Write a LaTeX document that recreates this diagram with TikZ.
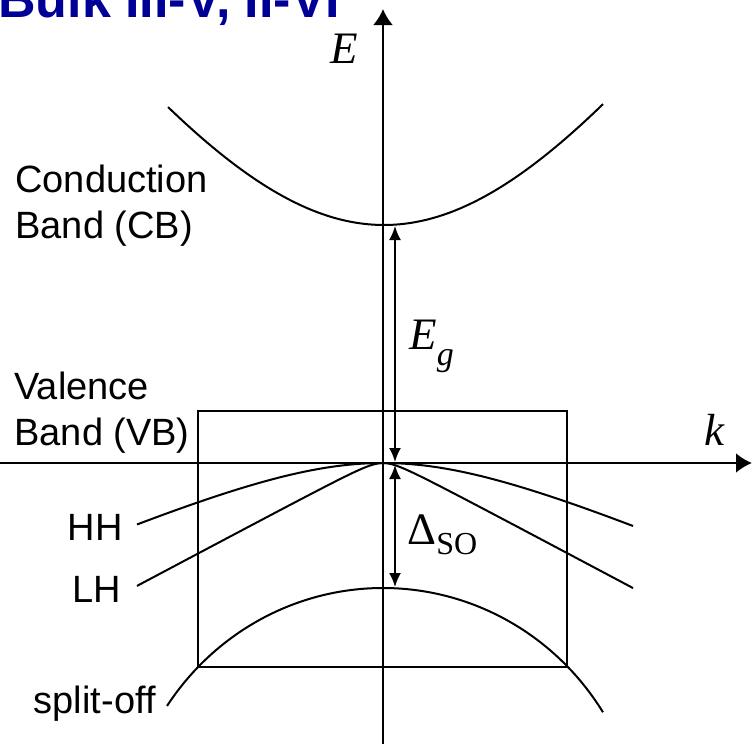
\documentclass[tikz,border=0pt]{standalone}
\usepackage{fontspec}
\setmainfont{Liberation Sans}
\newfontfamily\bandserif{Liberation Serif}
\usetikzlibrary{arrows.meta,calc,positioning}
\definecolor{TitleBlue}{RGB}{0,0,150}

\begin{document}
\begin{tikzpicture}[x=0.5pt,y=-0.5pt,>=Latex,
    band/.style={line width=1pt},
    bandlab/.style={inner sep=0pt,font=\fontsize{19}{23}\selectfont},
    axislab/.style={inner sep=0pt,font=\bandserif\itshape\fontsize{22.5}{24}\selectfont}]
  \useasboundingbox (0,0) rectangle (752,744);
  \clip (0,0) rectangle (752,744);
  \node[anchor=base west,inner sep=0pt,text=TitleBlue,
        font=\bfseries\fontsize{26}{28}\selectfont] (title) at (-2,18) {Bulk III-V, II-VI};
  % axes
  \coordinate (O) at (383,463);
  \coordinate (Ebot) at (383,744);
  \coordinate (Etop) at (383,9);
  \coordinate (kleft) at (0,463);
  \coordinate (kright) at (752,463);
  \draw[-{Latex[length=8pt,width=10pt]},line width=1.2pt] (Ebot) -- (Etop);
  \draw[-{Latex[length=8pt,width=10pt]},line width=1.2pt] (kleft) -- (kright);
  \node[axislab,anchor=base] (Elab) at (344,63) {E};
  \node[axislab,anchor=base] (klab) at (714,445) {k};
  % box round the valence band
  \draw[line width=1.1pt] (198,411) rectangle (567,667);
  % bands (dx in tens of pixels)
  \draw[band] plot[domain=168:603,samples=80] (\x,{225-(10*sqrt(1444+2.22*((\x-384)/10)^2)-380)});
  \foreach \c/\m in {6.45/0.1935,0.82/0.283}{
    \draw[band] plot[domain=137:633,samples=120] (\x,{463+10*(sqrt(\c*\c+\m*((\x-383)/10)^2)-\c)});}
  \draw[band] plot[domain=167:603,samples=100] (\x,{588+266*(1-sqrt(1-((\x-383)/260)^2))});
  % gaps
  \coordinate (CBmin) at (395,226);
  \coordinate (VBtop) at (395,462);
  \coordinate (VBlow) at (395,465);
  \coordinate (SOtop) at (395,587);
  \draw[{Latex[length=7pt,width=6pt]}-{Latex[length=7pt,width=6pt]},line width=1pt] (CBmin) -- (VBtop);
  \draw[{Latex[length=7pt,width=6pt]}-{Latex[length=7pt,width=6pt]},line width=1pt] (VBlow) -- (SOtop);
  \node[axislab,anchor=base west] (Eg) at (409,350)
    {E\raisebox{-0.35em}{\fontsize{17}{18}\selectfont g}};
  \node[inner sep=0pt,anchor=base west,font=\bandserif\fontsize{22.5}{24}\selectfont] (DSO) at (407,545)
    {Δ\raisebox{-0.22em}{\fontsize{16}{18}\selectfont SO}};
  % labels
  \node[bandlab,anchor=base west,align=left] (CB) at (15,238) {Conduction\\Band (CB)};
  \node[bandlab,anchor=base west,align=left] (VB) at (14,445) {Valence\\Band (VB)};
  \node[bandlab,anchor=base east] (HH) at (123,540) {HH};
  \node[bandlab,anchor=base east] (LH) at (121,603) {LH};
  \node[bandlab,anchor=base east] (SO) at (156,713) {split-off};
\end{tikzpicture}
\end{document}
